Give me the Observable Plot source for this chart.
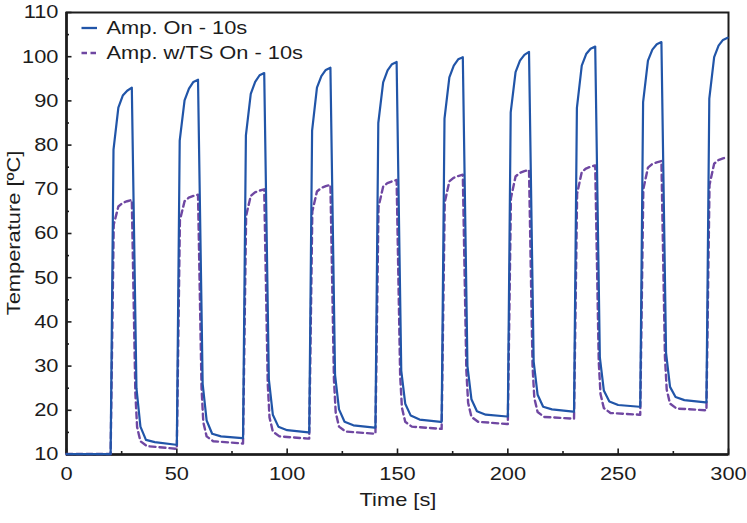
<!DOCTYPE html>
<html><head><meta charset="utf-8">
<script src="https://cdn.jsdelivr.net/npm/d3@7"></script>
<script src="https://cdn.jsdelivr.net/npm/@observablehq/plot@0.6"></script>
<style>
html,body{margin:0;padding:0;background:#fff;}
#wrap{position:relative;width:747px;height:523px;}
#overlay{position:absolute;left:0;top:0;pointer-events:none;}
</style></head><body><div id="wrap"></div>
<script>
// ---- data ----
const seriesNames = ["Amp. On - 10s", "Amp. w/TS On - 10s"];
const xTitle = "Time [s]";
const yTitle = "Temperature [ºC]";
const idleTimes = [0, 10];
const idleValues = [10.1, 10.1];
const cycleStarts = [20, 50, 80, 110, 140, 170, 200, 230, 260, 290];

// sample times within each 30 s cycle (seconds after switch-on)
const ampOffsets = [0, 1.3, 3.5, 5.5, 7.5, 9.6, 11.7, 13.5, 16, 20, 29.6];
const ampValues = [
  [10.1, 79.0, 88.5, 91.2, 92.3, 93.0, 25, 16.3, 13.3, 12.8, 12.2],
  [12.2, 81.0, 90.1, 92.8, 94.3, 94.8, 26, 17.7, 14.7, 14.1, 13.7],
  [13.7, 82.2, 91.6, 94.3, 95.8, 96.3, 27, 19.0, 16.3, 15.5, 15.0],
  [15.0, 83.3, 93.0, 95.6, 97.0, 97.5, 28, 20.2, 17.4, 16.6, 16.1],
  [16.1, 85.0, 94.2, 96.9, 98.3, 98.8, 29, 21.5, 18.8, 17.9, 17.4],
  [17.4, 86.0, 95.3, 98.0, 99.4, 99.9, 30, 22.5, 19.8, 19.0, 18.6],
  [18.6, 87.4, 96.5, 99.1, 100.4, 101.1, 31, 23.5, 20.8, 20.2, 19.7],
  [19.7, 88.4, 98.0, 100.6, 101.8, 102.3, 32, 24.5, 22.0, 21.2, 20.8],
  [20.8, 89.7, 99.1, 101.6, 102.8, 103.3, 33, 25.3, 23.0, 22.3, 21.8],
  [21.8, 90.5, 99.9, 102.5, 103.8, 104.3]
];

const tsOffsets = [0, 1.4, 3.5, 5.4, 7.5, 9.6, 11.2, 12.0, 13.5, 16.5, 29.6];
const tsValues = [
  [10.1, 62.0, 66.1, 66.9, 67.3, 67.6, 24, 16.2, 13.0, 11.9, 11.3],
  [11.3, 63.0, 67.3, 68.1, 68.5, 68.8, 25, 17.3, 14.1, 13.0, 12.5],
  [12.5, 64.0, 68.5, 69.3, 69.7, 70.0, 26, 18.4, 15.2, 14.1, 13.6],
  [13.6, 65.0, 69.5, 70.3, 70.7, 71.0, 27, 19.5, 16.3, 15.2, 14.7],
  [14.7, 66.0, 70.6, 71.4, 71.8, 72.1, 28, 20.6, 17.4, 16.3, 15.8],
  [15.8, 67.0, 71.8, 72.6, 73.0, 73.3, 29, 21.7, 18.5, 17.4, 16.9],
  [16.9, 68.0, 72.9, 73.7, 74.1, 74.4, 30, 22.8, 19.6, 18.5, 18.1],
  [18.1, 69.0, 73.9, 74.7, 75.1, 75.4, 31, 23.7, 20.5, 19.4, 19.0],
  [19.0, 70.0, 74.9, 75.7, 76.1, 76.4, 32, 24.7, 21.5, 20.4, 20.0],
  [20.0, 71.0, 75.8, 76.6, 77.0, 77.3]
];

const xMajor = [0, 50, 100, 150, 200, 250, 300];
const xMinor = [25, 75, 125, 175, 225, 275];
const yMajor = [10, 20, 30, 40, 50, 60, 70, 80, 90, 100, 110];
const yMinor = [15, 25, 35, 45, 55, 65, 75, 85, 95, 105];

const blue = "#2155a8";
const purple = "#6f47a2";
const ink = "#1c1c1c";
const font = "'Liberation Sans', Arial, sans-serif";
const dash = "6,4";

// ---- build tables ----
function build(offsets, values) {
  const out = idleTimes.map((t, i) => ({t, v: idleValues[i]}));
  cycleStarts.forEach((t0, i) => values[i].forEach((v, j) => out.push({t: t0 + offsets[j], v})));
  return out;
}
const ampData = build(ampOffsets, ampValues);
const tsData = build(tsOffsets, tsValues);

const chart = Plot.plot({
  width: 747, height: 523,
  marginLeft: 66, marginRight: 19, marginTop: 12, marginBottom: 69,
  style: {fontFamily: font, fontSize: "18.5px", color: ink, background: "#fff"},
  x: {domain: [0, 300], label: null},
  y: {domain: [10, 110], label: null},
  marks: [
    Plot.axisX({ticks: xMajor, tickSize: -5.5, strokeWidth: 1.6, tickFormat: () => "", label: null}),
    Plot.axisX({ticks: xMinor, tickSize: -3, strokeWidth: 1.6, tickFormat: () => "", label: null}),
    Plot.axisX({ticks: xMajor, tickSize: 0, tickPadding: 12, label: null}),
    Plot.axisY({ticks: yMajor, tickSize: -5.5, strokeWidth: 1.6, tickFormat: () => "", label: null}),
    Plot.axisY({ticks: yMinor, tickSize: -3, strokeWidth: 1.6, tickFormat: () => "", label: null}),
    Plot.axisY({ticks: yMajor, tickSize: 0, tickPadding: 8, label: null}),
    Plot.frame({stroke: ink, strokeWidth: 2}),
    Plot.ruleX([0], {stroke: ink, strokeWidth: 2.6}),
    Plot.ruleY([10], {stroke: ink, strokeWidth: 2.6}),
    Plot.line(tsData, {x: "t", y: "v", stroke: purple, strokeWidth: 2.4, strokeDasharray: dash}),
    Plot.line(ampData, {x: "t", y: "v", stroke: blue, strokeWidth: 2.2})
  ]
});

const wrap = document.getElementById("wrap");
wrap.appendChild(chart);

// overlay: legend and axis titles
const ns = "http://www.w3.org/2000/svg";
const ov = document.createElementNS(ns, "svg");
ov.setAttribute("id", "overlay");
ov.setAttribute("width", 747);
ov.setAttribute("height", 523);
ov.setAttribute("font-family", font);
ov.setAttribute("font-size", "18.5px");
function addText(x, y, s, anchor, rotate) {
  const tx = document.createElementNS(ns, "text");
  tx.setAttribute("x", x); tx.setAttribute("y", y); tx.setAttribute("dy", "0.35em");
  tx.setAttribute("fill", ink);
  tx.setAttribute("text-anchor", anchor);
  if (rotate) tx.setAttribute("transform", `rotate(${rotate},${x},${y})`);
  tx.textContent = s;
  ov.appendChild(tx);
}
const rows = [
  {name: seriesNames[0], color: blue, dash: null, y: 28},
  {name: seriesNames[1], color: purple, dash: "5.5,3.5", y: 53}
];
rows.forEach(r => {
  const ln = document.createElementNS(ns, "line");
  ln.setAttribute("x1", 81.5); ln.setAttribute("x2", 97);
  ln.setAttribute("y1", r.y); ln.setAttribute("y2", r.y);
  ln.setAttribute("stroke", r.color); ln.setAttribute("stroke-width", 2.3);
  if (r.dash) ln.setAttribute("stroke-dasharray", r.dash);
  ov.appendChild(ln);
  addText(106.5, r.y, r.name, "start");
});
addText(398, 500, xTitle, "middle");
addText(14, 233, yTitle, "middle", -90);
wrap.appendChild(ov);

// widen glyphs to match the reference's broad sans
function stretch(root, k) {
  root.querySelectorAll("text").forEach(t => {
    if (!t.textContent) return;
    const L = t.getComputedTextLength();
    if (L > 0) { t.setAttribute("textLength", L * k); t.setAttribute("lengthAdjust", "spacingAndGlyphs"); }
  });
}
stretch(chart, 1.18);
stretch(ov, 1.18);
</script></body></html>
